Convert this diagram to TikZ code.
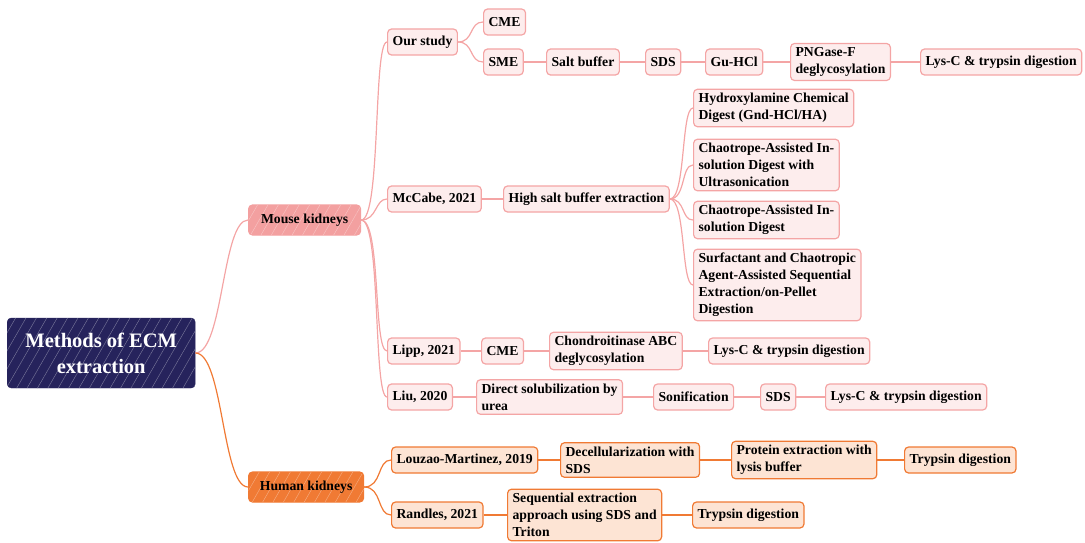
\documentclass[tikz,border=0pt]{standalone}
\usepackage{fontspec}
\setmainfont{Liberation Serif}
\usepackage{tikz}
\usetikzlibrary{patterns.meta}

\definecolor{rootblue}{RGB}{38,35,92}
\definecolor{mousedark}{RGB}{243,160,160}
\definecolor{mouseline}{RGB}{244,165,165}
\definecolor{mouseleaf}{RGB}{253,237,237}
\definecolor{humandark}{RGB}{240,122,52}
\definecolor{humanleaf}{RGB}{253,228,212}

\tikzset{
  leaf/.style={draw=mouseline, fill=mouseleaf, rounded corners=4pt, line width=1.2pt,
    inner xsep=5pt, inner ysep=4pt, minimum height=26pt, align=left,
    font=\fontsize{13.7}{17}\selectfont\bfseries},
  hleaf/.style={leaf, draw=humandark, fill=humanleaf},
  sketch/.style={postaction={pattern={Lines[angle=60, distance=9pt, line width=0.4pt]},
    pattern color=white!40!#1}},
  mline/.style={draw=mouseline, line width=1.2pt},
  hline/.style={draw=humandark, line width=1.2pt},
}

\begin{document}
\begin{tikzpicture}[x=1pt, y=-1pt]
    \useasboundingbox (0,0) rectangle (1085,543);

    % root
    \node [fill=rootblue, draw=rootblue, rounded corners=4pt, text=white, align=center,
      minimum width=188pt, minimum height=70pt, anchor=west, sketch=rootblue,
      font=\fontsize{20.5}{26}\selectfont\bfseries] (root) at (7,353) {Methods of ECM\\extraction};

    % root -> kidneys
    \node [leaf, fill=mousedark, draw=mousedark, minimum width=112pt, minimum height=30pt,
      anchor=west, sketch=mousedark] (mouse) at (248,220) {Mouse kidneys};
    \node [hleaf, fill=humandark, draw=humandark, minimum width=115pt, minimum height=30pt,
      anchor=west, sketch=humandark] (human) at (248,487) {Human kidneys};
    \draw [mline] (root.east) .. controls +(28,0) and +(-26,0) .. (mouse.west);
    \draw [hline] (root.east) .. controls +(28,0) and +(-26,0) .. (human.west);

    % mouse kidneys -> studies
    \node [leaf, anchor=west] (our) at (387,42) {Our study};
    \node [leaf, anchor=west] (mccabe) at (387,199) {McCabe, 2021};
    \node [leaf, anchor=west] (lipp) at (387,351) {Lipp, 2021};
    \node [leaf, anchor=west] (liu) at (387,397) {Liu, 2020};
    \draw [mline] (mouse.east) .. controls +(20,0) and +(-14,0) .. (our.west);
    \draw [mline] (mouse.east) .. controls +(16,0) and +(-12,0) .. (mccabe.west);
    \draw [mline] (mouse.east) .. controls +(20,0) and +(-14,0) .. (lipp.west);
    \draw [mline] (mouse.east) .. controls +(20,0) and +(-14,0) .. (liu.west);

    % our study
    \node [leaf, anchor=west] (cmeA) at (483,22) {CME};
    \node [leaf, anchor=west] (sme) at (483,62) {SME};
    \node [leaf, anchor=west] (salt) at (546,62) {Salt buffer};
    \node [leaf, anchor=west] (sdsA) at (645,62) {SDS};
    \node [leaf, anchor=west] (guhcl) at (705,62) {Gu-HCl};
    \node [leaf, anchor=west] (pngase) at (790,62) {PNGase-F\\deglycosylation};
    \node [leaf, anchor=west] (lyscA) at (920,62) {Lys-C \& trypsin digestion};
    \draw [mline] (our.east) .. controls +(16,0) and +(-14,0) .. (cmeA.west);
    \draw [mline] (our.east) .. controls +(16,0) and +(-14,0) .. (sme.west);
    \draw [mline] (sme.east) -- (salt.west);
    \draw [mline] (salt.east) -- (sdsA.west);
    \draw [mline] (sdsA.east) -- (guhcl.west);
    \draw [mline] (guhcl.east) -- (pngase.west);
    \draw [mline] (pngase.east) -- (lyscA.west);

    % mccabe
    \node [leaf, anchor=west] (hsalt) at (503,199) {High salt buffer extraction};
    \node [leaf, anchor=west] (hydrox) at (693,108) {Hydroxylamine Chemical\\Digest (Gnd-HCl/HA)};
    \node [leaf, anchor=west] (chaoUS) at (693,165) {Chaotrope-Assisted In-\\solution Digest with\\Ultrasonication};
    \node [leaf, anchor=west] (chaoIS) at (693,220) {Chaotrope-Assisted In-\\solution Digest};
    \node [leaf, anchor=west] (surf) at (693,285) {Surfactant and Chaotropic\\Agent-Assisted Sequential\\Extraction/on-Pellet\\Digestion};
    \draw [mline] (mccabe.east) -- (hsalt.west);
    \draw [mline] (hsalt.east) .. controls +(16,0) and +(-12,0) .. (hydrox.west);
    \draw [mline] (hsalt.east) .. controls +(16,0) and +(-12,0) .. (chaoUS.west);
    \draw [mline] (hsalt.east) .. controls +(16,0) and +(-12,0) .. (chaoIS.west);
    \draw [mline] (hsalt.east) .. controls +(16,0) and +(-12,0) .. (surf.west);

    % lipp
    \node [leaf, anchor=west] (cmeB) at (481,351) {CME};
    \node [leaf, anchor=west] (chond) at (549,351) {Chondroitinase ABC\\deglycosylation};
    \node [leaf, anchor=west] (lyscB) at (708,351) {Lys-C \& trypsin digestion};
    \draw [mline] (lipp.east) -- (cmeB.west);
    \draw [mline] (cmeB.east) -- (chond.west);
    \draw [mline] (chond.east) -- (lyscB.west);

    % liu
    \node [leaf, anchor=west] (urea) at (476,397) {Direct solubilization by\\urea};
    \node [leaf, anchor=west] (sonif) at (653,397) {Sonification};
    \node [leaf, anchor=west] (sdsB) at (760,397) {SDS};
    \node [leaf, anchor=west] (lyscC) at (825,397) {Lys-C \& trypsin digestion};
    \draw [mline] (liu.east) -- (urea.west);
    \draw [mline] (urea.east) -- (sonif.west);
    \draw [mline] (sonif.east) -- (sdsB.west);
    \draw [mline] (sdsB.east) -- (lyscC.west);

    % human kidneys -> studies
    \node [hleaf, anchor=west] (louzao) at (391,460) {Louzao-Martinez, 2019};
    \node [hleaf, anchor=west] (randles) at (391,515) {Randles, 2021};
    \draw [hline] (human.east) .. controls +(18,0) and +(-14,0) .. (louzao.west);
    \draw [hline] (human.east) .. controls +(18,0) and +(-14,0) .. (randles.west);

    % louzao
    \node [hleaf, anchor=west] (decell) at (560,460) {Decellularization with\\SDS};
    \node [hleaf, anchor=west] (protein) at (731,460) {Protein extraction with\\lysis buffer};
    \node [hleaf, anchor=west] (trypA) at (904,460) {Trypsin digestion};
    \draw [hline] (louzao.east) -- (decell.west);
    \draw [hline] (decell.east) -- (protein.west);
    \draw [hline] (protein.east) -- (trypA.west);

    % randles
    \node [hleaf, anchor=west] (seq) at (507,515) {Sequential extraction\\approach using SDS and\\Triton};
    \node [hleaf, anchor=west] (trypB) at (692,515) {Trypsin digestion};
    \draw [hline] (randles.east) -- (seq.west);
    \draw [hline] (seq.east) -- (trypB.west);

\end{tikzpicture}
\end{document}
